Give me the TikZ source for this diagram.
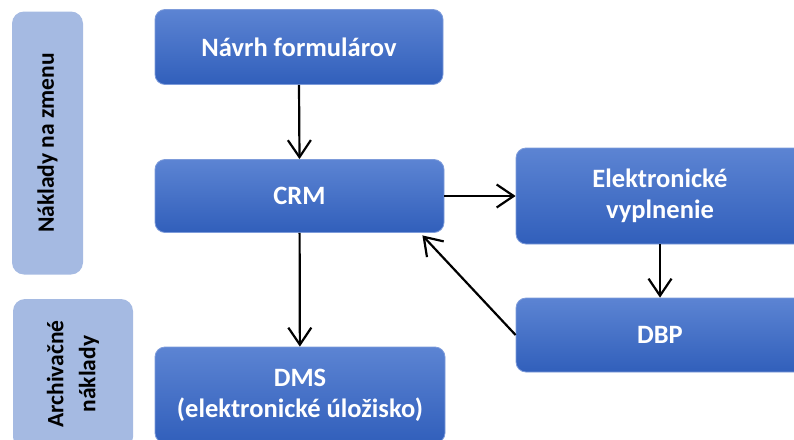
\documentclass[tikz,border=0pt]{standalone}
\usepackage{fontspec}
\setmainfont{Carlito}
\usetikzlibrary{arrows.meta,calc}

\definecolor{boxtop}{RGB}{92,132,211}
\definecolor{boxbot}{RGB}{49,95,187}
\definecolor{boxline}{RGB}{125,155,218}
\definecolor{sidefill}{RGB}{165,186,226}

\begin{document}
\begin{tikzpicture}[x=1pt, y=-1pt,
    blok/.style={rectangle, rounded corners=10pt, top color=boxtop, bottom color=boxbot,
        draw=boxline, line width=0.8pt, text=white, align=center, inner sep=0pt,
        font=\fontsize{26.5}{31}\selectfont\bfseries},
    bok/.style={rectangle, rounded corners=12pt, fill=sidefill, rotate=90, align=center,
        inner sep=0pt, font=\fontsize{23.5}{32}\selectfont\bfseries},
    sipka/.style={-{Straight Barb[length=17pt,width=23pt]}, line width=2.2pt}]
    \clip (0,0) rectangle (794,439);
    % naklady
    \node[bok, minimum width=263pt, minimum height=71pt] (zmena) at (47.5,143) {Náklady na zmenu};
    \node[bok, minimum width=150pt, minimum height=120pt] (archiv) at (73,374) {Archivačné\\náklady};
    % bloky
    \node[blok, minimum width=288pt, minimum height=75pt] (navrh) at (299,47) {Návrh formulárov};
    \node[blok, minimum width=289pt, minimum height=73pt] (crm) at (299.5,196) {CRM};
    \node[blok, minimum width=288pt, minimum height=96pt] (elek) at (660,196) {Elektronické\\vyplnenie};
    \node[blok, minimum width=288pt, minimum height=74pt] (dbp) at (660,335) {DBP};
    \node[blok, minimum width=290pt, minimum height=96pt] (dms) at (300,395) {DMS\\(elektronické úložisko)};
    % sipky
    \draw[sipka] (navrh.south) -- (crm.north);
    \draw[sipka] (crm) -- (elek);
    \draw[sipka] (elek) -- (dbp);
    \draw[sipka] (crm) -- (dms);
    \draw[sipka] (dbp.west) -- ($(crm.south east)+(-22,2.5)$);
\end{tikzpicture}
\end{document}
